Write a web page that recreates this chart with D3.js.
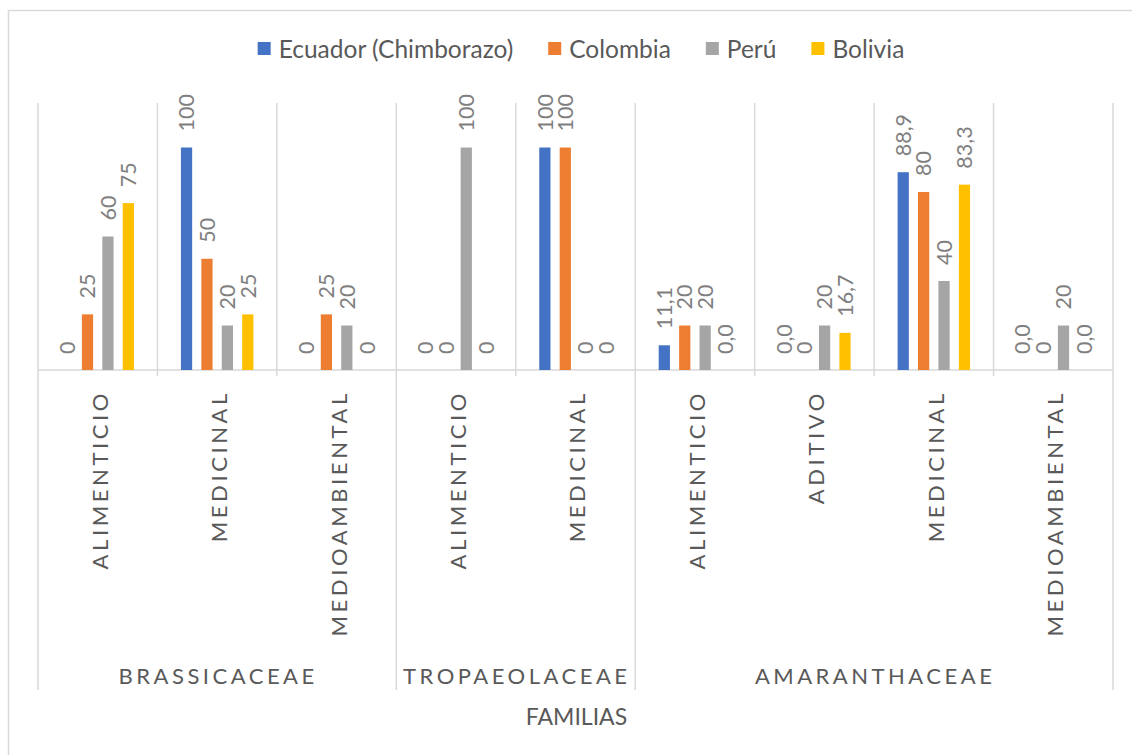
<!DOCTYPE html>
<html>
<head>
<meta charset="utf-8">
<script src="https://cdn.jsdelivr.net/npm/d3@7"></script>
<style>
  html, body { margin: 0; padding: 0; background: #fff; }
  svg { display: block; }
  text { font-family: Lato, "Open Sans", sans-serif; }
</style>
</head>
<body>
<svg id="chart" width="1132" height="755"></svg>
<script>
// Uses by plant family
const categories = ["ALIMENTICIO", "MEDICINAL", "MEDIOAMBIENTAL",
                    "ALIMENTICIO", "MEDICINAL",
                    "ALIMENTICIO", "ADITIVO", "MEDICINAL", "MEDIOAMBIENTAL"];
const families = ["BRASSICACEAE", "TROPAEOLACEAE", "AMARANTHACEAE"];
const familySizes = [3, 2, 4];
const seriesNames = ["Ecuador (Chimborazo)", "Colombia", "Perú", "Bolivia"];
const seriesColors = ["#4472C4", "#ED7D31", "#A5A5A5", "#FFC000"];

// Percentages per country
const ecuador  = [0, 100, 0, 0, 100, 11.1, 0, 88.9, 0];
const colombia = [25, 50, 25, 0, 100, 20, 0, 80, 0];
const peru     = [60, 20, 20, 100, 0, 20, 20, 40, 20];
const bolivia  = [75, 25, 0, 0, 0, 0, 16.7, 83.3, 0];

// Decimal places shown in each data label
const ecuadorDecimals  = [0, 0, 0, 0, 0, 1, 1, 1, 1];
const colombiaDecimals = [0, 0, 0, 0, 0, 0, 0, 0, 0];
const peruDecimals     = [0, 0, 0, 0, 0, 0, 0, 0, 0];
const boliviaDecimals  = [0, 0, 0, 0, 0, 1, 1, 1, 1];

const axisTitle = "FAMILIAS";

const seriesValues = [ecuador, colombia, peru, bolivia];
const seriesDecimals = [ecuadorDecimals, colombiaDecimals, peruDecimals, boliviaDecimals];

const locale = d3.formatLocale({ decimal: ",", thousands: ".", grouping: [3], currency: ["", ""] });

const svg = d3.select("#chart");
const gridColor = "#D9D9D9";
const textColor = "#595959";
const labelColor = "#7F7F7F";

// chart area frame
svg.append("rect")
  .attr("x", 8.5).attr("y", 10.5)
  .attr("width", 1140).attr("height", 760)
  .attr("fill", "#fff").attr("stroke", gridColor).attr("stroke-width", 1.5);

const plot = { left: 38, right: 1113, top: 103, bottom: 370 };

const x0 = d3.scaleBand()
  .domain(d3.range(categories.length))
  .range([plot.left, plot.right])
  .padding(0);

const x1 = d3.scaleBand()
  .domain(d3.range(seriesNames.length))
  .range([0, x0.bandwidth()])
  .paddingInner(0.45)
  .paddingOuter(1.15);

const y = d3.scaleLinear().domain([0, 120]).range([plot.bottom, plot.top]);

// family boundaries (category index where each family starts)
const familyStarts = [];
let acc = 0;
familySizes.forEach(n => { familyStarts.push(acc); acc += n; });
const familyBoundaries = new Set([...familyStarts, categories.length]);

// vertical separators
const sepG = svg.append("g");
d3.range(categories.length + 1).forEach(i => {
  const xPos = i < categories.length ? x0(i) : plot.right;
  const isFamily = familyBoundaries.has(i);
  sepG.append("line")
    .attr("x1", xPos).attr("x2", xPos)
    .attr("y1", plot.top).attr("y2", isFamily ? 690 : plot.bottom + 6)
    .attr("stroke", gridColor).attr("stroke-width", 1.5);
});

// baseline
svg.append("line")
  .attr("x1", plot.left).attr("x2", plot.right)
  .attr("y1", y(0)).attr("y2", y(0))
  .attr("stroke", gridColor).attr("stroke-width", 1.5);

// bars
const barG = svg.append("g");
seriesValues.forEach((vals, s) => {
  barG.selectAll(null)
    .data(vals)
    .join("rect")
    .attr("x", (d, i) => x0(i) + x1(s))
    .attr("y", d => y(d))
    .attr("width", x1.bandwidth())
    .attr("height", d => y(0) - y(d))
    .attr("fill", seriesColors[s]);
});

// data labels
const lblG = svg.append("g");
seriesValues.forEach((vals, s) => {
  vals.forEach((v, i) => {
    const cx = x0(i) + x1(s) + x1.bandwidth() / 2;
    const cy = y(v) - 16;
    const txt = locale.format("." + seriesDecimals[s][i] + "f")(v);
    lblG.append("text")
      .attr("transform", `translate(${cx},${cy}) rotate(-90)`)
      .attr("dy", "0.36em")
      .attr("text-anchor", "start")
      .attr("fill", labelColor)
      .style("font-size", "21.5px")
      .text(txt);
  });
});

// category labels
const catG = svg.append("g");
categories.forEach((c, i) => {
  const cx = x0(i) + x0.bandwidth() / 2 + 2;
  catG.append("text")
    .attr("transform", `translate(${cx},390) rotate(-90)`)
    .attr("dy", "0.36em")
    .attr("text-anchor", "end")
    .attr("fill", textColor)
    .style("font-size", "22px")
    .style("letter-spacing", "3.6px")
    .text(c);
});

// family labels
families.forEach((f, k) => {
  const start = x0(familyStarts[k]);
  const endIdx = familyStarts[k] + familySizes[k];
  const end = endIdx < categories.length ? x0(endIdx) : plot.right;
  svg.append("text")
    .attr("x", (start + end) / 2 + 1)
    .attr("y", 684)
    .attr("text-anchor", "middle")
    .attr("fill", textColor)
    .style("font-size", "22px")
    .style("letter-spacing", "3.5px")
    .text(f);
});

// axis title
svg.append("text")
  .attr("x", (plot.left + plot.right) / 2 + 1)
  .attr("y", 725)
  .attr("text-anchor", "middle")
  .attr("fill", textColor)
  .style("font-size", "23px")
  .text(axisTitle);

// legend
const legend = svg.append("g");
const items = seriesNames.map((name, s) => {
  const g = legend.append("g");
  g.append("rect").attr("width", 13).attr("height", 13).attr("y", -7).attr("fill", seriesColors[s]);
  const t = g.append("text").attr("x", 21).attr("dy", "0.35em")
    .attr("fill", textColor).style("font-size", "24.5px").text(name);
  return { g, w: 21 + t.node().getComputedTextLength() };
});
const gap = 35;
const totalW = d3.sum(items, d => d.w) + gap * (items.length - 1);
let lx = 581 - totalW / 2;
items.forEach(it => {
  it.g.attr("transform", `translate(${lx},49)`);
  lx += it.w + gap;
});
</script>
</body>
</html>
